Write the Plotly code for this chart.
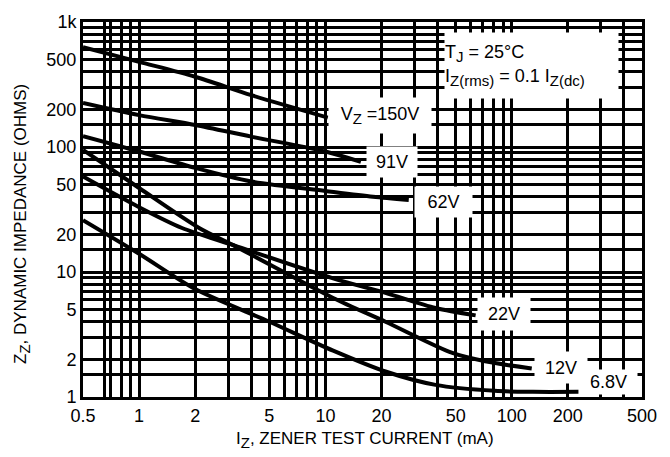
import plotly.graph_objects as go
import math

# ---- data ----
x_150 = [0.5, 1, 2, 4, 10.3]
y_150 = [630, 480, 365, 260, 172]

x_91 = [0.5, 1, 2, 4, 10, 15.5]
y_91 = [225, 180, 150, 121, 92, 76]

x_62 = [0.5, 1, 2, 4, 10, 18, 28]
y_62 = [122, 92, 68, 53, 44.5, 40, 37.7]

x_22 = [0.5, 1, 1.7, 3.2, 11, 21, 39, 64]
y_22 = [58, 33, 22.5, 16.4, 8.9, 6.8, 5.15, 4.5]

x_12 = [0.5, 1, 2.1, 3.2, 11, 21, 48, 72, 128]
y_12 = [95, 47, 22.5, 16.4, 6.2, 4.0, 2.25, 1.93, 1.69]

x_68 = [0.5, 1, 2, 5, 11, 21, 39, 81, 130, 228]
y_68 = [26, 14, 7.3, 4.0, 2.35, 1.6, 1.25, 1.12, 1.1, 1.1]

x_grid = [0.5, 0.65, 0.7, 0.8, 0.9, 1, 2, 3, 4, 5, 6, 7, 8, 9, 10,
          20, 30, 40, 50, 60, 70, 80, 90, 100, 200, 300, 400, 500]
x_labels = {0.5: "0.5", 1: "1", 2: "2", 5: "5", 10: "10", 20: "20",
            50: "50", 100: "100", 200: "200", 500: "500"}
y_grid = [1, 1.5, 2, 3, 4, 5, 6, 7, 8, 9, 10, 15, 20, 30, 40, 50, 60, 70, 80, 90,
          100, 150, 200, 300, 400, 500, 600, 700, 800, 900, 1000]
y_labels = {1: "1", 2: "2", 5: "5", 10: "10", 20: "20", 50: "50",
            100: "100", 200: "200", 500: "500", 1000: "1k"}

FONT = "Liberation Sans Narrow, Arial Narrow, Liberation Sans, Arial, sans-serif"

W, H = 670, 457
L, R, T, B = 83, 642, 22, 397

def sub(t, size=15):
    return "<sub><span style='font-size:%dpx'>%s</span></sub>" % (size, t)

fig = go.Figure()
for xs, ys in [(x_150, y_150), (x_91, y_91), (x_62, y_62),
               (x_22, y_22), (x_12, y_12), (x_68, y_68)]:
    fig.add_trace(go.Scatter(x=xs, y=ys, mode="lines",
                             line=dict(color="black", width=4, shape="spline", smoothing=0.8),
                             hoverinfo="skip", showlegend=False))

def px(xp):
    return (xp - L) / (R - L)

def py(yp):
    return (B - yp) / (B - T)

def box(text, x0, x1, y0, y1, size=18, align="center"):
    fig.add_annotation(xref="paper", yref="paper",
                       x=px((x0 + x1) / 2), y=py((y0 + y1) / 2),
                       xanchor="center", yanchor="middle",
                       width=x1 - x0, height=y1 - y0, borderpad=0,
                       bgcolor="white", showarrow=False, align=align,
                       text=text, font=dict(family=FONT, size=size, color="black"))

box("V" + sub("Z") + " =150V", 329, 431, 98, 133)
box("91V", 367, 417, 147, 177)
box("62V", 415, 472, 187, 217)
box("T" + sub("J") + " = 25°C<br>I" + sub("Z(rms)") + " = 0.1 I" + sub("Z(dc)"),
    445, 618, 33, 98, align="left")
box("22V", 478, 530, 298, 330)
box("12V", 535, 587, 352, 383)
box("6.8V", 580, 637, 370, 394)

# axis titles
fig.add_annotation(xref="paper", yref="paper", x=px(365), y=py(440),
                   xanchor="center", yanchor="middle", showarrow=False,
                   text="I" + sub("Z") + ", ZENER TEST CURRENT (mA)",
                   font=dict(family=FONT, size=17, color="black"))
fig.add_annotation(xref="paper", yref="paper", x=px(22), y=py(224),
                   xanchor="center", yanchor="middle", showarrow=False, textangle=-90,
                   text="Z" + sub("Z") + ", DYNAMIC IMPEDANCE (OHMS)",
                   font=dict(family=FONT, size=17, color="black"))

fig.update_xaxes(type="log", range=[math.log10(0.5), math.log10(500)],
                 tickmode="array", tickvals=x_grid,
                 ticktext=[x_labels.get(v, "") for v in x_grid],
                 showgrid=True, gridcolor="black", gridwidth=2.5,
                 showline=True, linecolor="black", linewidth=3, mirror=True,
                 ticks="", zeroline=False,
                 tickfont=dict(family=FONT, size=18, color="black"))
fig.update_yaxes(type="log", range=[0, 3],
                 tickmode="array", tickvals=y_grid,
                 ticktext=[y_labels.get(v, "") for v in y_grid],
                 showgrid=True, gridcolor="black", gridwidth=2.5,
                 showline=True, linecolor="black", linewidth=3, mirror=True,
                 ticks="", zeroline=False,
                 tickfont=dict(family=FONT, size=18, color="black"))

fig.update_layout(width=W, height=H, margin=dict(l=L, r=W - R, t=T, b=H - B),
                  plot_bgcolor="white", paper_bgcolor="white")

fig.write_html("out.html")
